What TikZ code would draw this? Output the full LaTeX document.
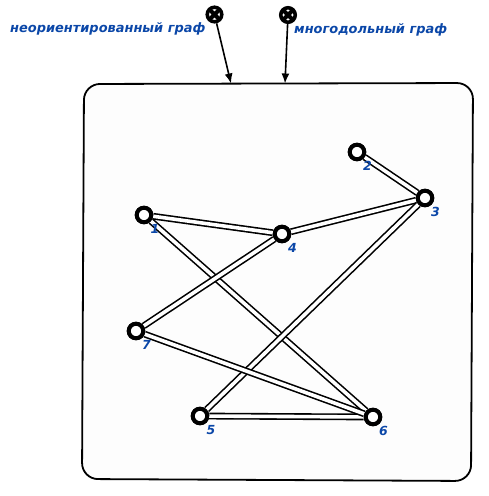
\documentclass[tikz,border=0pt]{standalone}
\usepackage{fontspec}
\setmainfont{DejaVu Sans}
\usetikzlibrary{arrows.meta}
\definecolor{lbl}{HTML}{0B47A8}
\definecolor{boxfill}{HTML}{FDFDFD}
\tikzset{
  vert/.style={circle,draw=black,fill=white,line width=4pt,minimum size=14.5pt,inner sep=0pt},
  lab/.style={text=lbl,font=\fontsize{12.95pt}{15pt}\selectfont\bfseries\itshape,inner sep=0pt},
  numlab/.style={lab,font=\fontsize{12.5pt}{14pt}\selectfont\bfseries\itshape},
  edge/.style={draw=black,line width=1.6pt,double=white,double distance=3.6pt},
  xmark/.style={circle,draw=black,fill=white,line width=3.6pt,minimum size=14.5pt,inner sep=0pt,path picture={
    \draw[black,line width=4pt] (path picture bounding box.south west)--(path picture bounding box.north east)
      (path picture bounding box.south east)--(path picture bounding box.north west);}},
  pointer/.style={draw=black,line width=1.6pt,-{Latex[length=10pt,width=8pt]}},
  frame/.style={draw=black,fill=boxfill,line width=1.8pt,rounded corners=16pt}
}
\begin{document}
\begin{tikzpicture}[x=1pt,y=-1pt]
\useasboundingbox (0,0) rectangle (489,496);
\coordinate (tl) at (84,84);
\coordinate (tr) at (473,83);
\coordinate (br) at (471,481);
\coordinate (bl) at (82,479);
\coordinate (pa) at (231,83.5);
\coordinate (pb) at (285,83.5);
\path[frame] (tl)--(tr)--(br)--(bl)--cycle;
\node[vert] (v1) at (144,215) {};
\node[vert] (v2) at (357,152) {};
\node[vert] (v3) at (425,198) {};
\node[vert] (v4) at (282,234) {};
\node[vert] (v5) at (200,416) {};
\node[vert] (v6) at (373,417) {};
\node[vert] (v7) at (136,331) {};
\path[edge] (v1)--(v4);
\path[edge] (v1)--(v6);
\path[edge] (v2)--(v3);
\path[edge] (v3)--(v4);
\path[edge] (v3)--(v5);
\path[edge] (v4)--(v7);
\path[edge] (v5)--(v6);
\path[edge] (v6)--(v7);
\node[vert] at (v1) {};
\node[vert] at (v2) {};
\node[vert] at (v3) {};
\node[vert] at (v4) {};
\node[vert] at (v5) {};
\node[vert] at (v6) {};
\node[vert] at (v7) {};
\node[numlab] (n1) at (155,229) {1};
\node[numlab] (n2) at (367.5,166) {2};
\node[numlab] (n3) at (435.5,212) {3};
\node[numlab] (n4) at (292.5,248) {4};
\node[numlab] (n5) at (211,430) {5};
\node[numlab] (n6) at (383.5,431) {6};
\node[numlab] (n7) at (146.5,345) {7};
\node[xmark] (xa) at (214.5,14.5) {};
\node[xmark] (xb) at (288,15) {};
\path[pointer] (xa)--(pa);
\path[pointer] (xb)--(pb);
\node[lab,anchor=west] (ta) at (10,29) {неориентированный граф};
\node[lab,anchor=west] (tb) at (294,30) {многодольный граф};
\end{tikzpicture}
\end{document}
